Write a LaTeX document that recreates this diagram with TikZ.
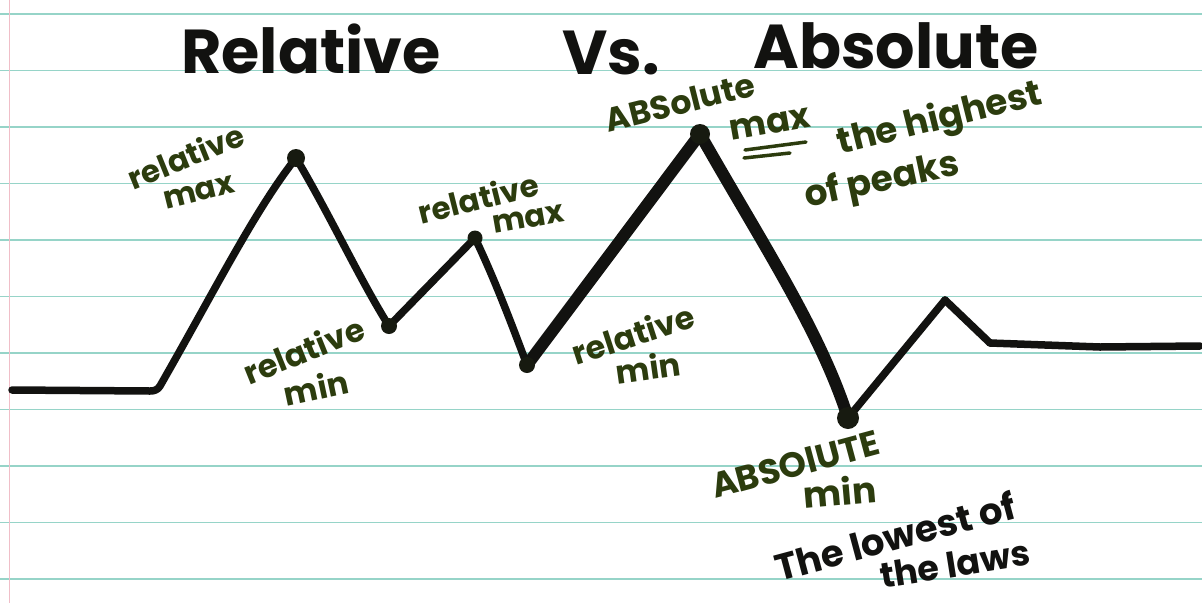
\documentclass[tikz,border=0pt]{standalone}
\usepackage{fontspec}
\setmainfont{Poppins}
\definecolor{rule}{RGB}{150,212,200}
\definecolor{margin}{RGB}{240,190,200}
\definecolor{ink}{RGB}{18,18,16}
\definecolor{penc}{RGB}{44,60,14}
\begin{document}
\begin{tikzpicture}[x=1pt,y=-1pt,
  curve/.style={draw=ink,line width=7.5pt,line cap=round,line join=round},
  boldcurve/.style={draw=ink,line width=12pt,line cap=round,line join=round},
  dot/.style={circle,fill=ink!80!penc,inner sep=0pt,minimum size=#1},
  title/.style={text=ink,font=\fontsize{62}{64}\selectfont\bfseries,inner sep=0pt},
  lab/.style={text=penc,font=\fontsize{#1}{#1}\selectfont\bfseries,inner sep=0pt},
  lab/.default=30]
\fill[white] (0,0) rectangle (1202,603);
\useasboundingbox (0,0) rectangle (1202,603);
% ruled paper
\foreach \k in {0,...,10}{
  \draw[rule,line width=1.6pt] (0,{14+56.5*\k}) -- (1202,{14+56.5*\k});
}
\draw[margin,line width=0.8pt] (9,0) -- (9,603);
% title
\node[title,anchor=base] (t1) at (311,73) {Relative};
\node[title,anchor=base] (t2) at (611,74) {Vs.};
\node[title,anchor=base] (t3) at (896,68) {Absolute};
% graph points
\coordinate (s0) at (12,390);
\coordinate (s1) at (150,391);
\coordinate (s2) at (160,386);
\coordinate (p1) at (296,158);
\coordinate (m1) at (389,326);
\coordinate (p2) at (475,238);
\coordinate (m2) at (527,365);
\coordinate (P) at (700,134);
\coordinate (M) at (848,418);
\coordinate (q) at (945,300);
\coordinate (r) at (990,343);
\coordinate (e) at (1200,346);
\draw[curve] (s0) -- (s1) to[out=0,in=-120] (s2) .. controls (215,290) and (255,210) .. (p1);
\draw[curve] (p1) .. controls (330,215) and (360,280) .. (m1);
\draw[curve] (m1) -- (p2);
\draw[curve] (p2) .. controls (495,280) and (512,325) .. (m2);
\draw[boldcurve] (m2) -- (P);
\draw[boldcurve] (P) .. controls (760,240) and (820,330) .. (M);
\draw[curve] (M) -- (q);
\draw[curve] (q) -- (r);
\draw[curve] (r) -- (1100,347) -- (e);
% dots
\node[dot=18pt] (dp1) at (p1) {};
\node[dot=16pt] (dm1) at (m1) {};
\node[dot=15pt] (dp2) at (p2) {};
\node[dot=16pt] (dm2) at (m2) {};
\node[dot=20pt] (dP) at (P) {};
\node[dot=22pt] (dM) at (M) {};
% labels
\node[lab=31,rotate=22] (l1a) at (186,156) {relative};
\node[lab=31,rotate=14] (l1b) at (199,192) {max};
\node[lab=31,rotate=14] (l2a) at (478,198) {relative};
\node[lab=31,rotate=10] (l2b) at (528,219) {max};
\node[lab=32,rotate=22] (l3a) at (304,350) {relative};
\node[lab=32,rotate=12] (l3b) at (316,387) {min};
\node[lab=32,rotate=18] (l4a) at (633,334) {relative};
\node[lab=32,rotate=8] (l4b) at (648,367) {min};
\node[lab=33,rotate=14] (l5a) at (680,102) {ABSolute};
\node[lab=35,rotate=10] (l5b) at (770,124) {max};
\draw[penc,line width=3.5pt,line cap=round] (745,150) -- (806,142);
\draw[penc,line width=3.5pt,line cap=round] (744,158) -- (790,153);
\node[lab=36,rotate=14] (l6a) at (940,120) {the highest};
\node[lab=36,rotate=12] (l6b) at (882,182) {of peaks};
\node[lab=35,rotate=15] (l7a) at (795,464) {ABSOlUTE};
\node[lab=36,rotate=5] (l7b) at (840,491) {min};
\node[lab=37,rotate=15,text=ink] (l8a) at (895,536) {The lowest of};
\node[lab=35,rotate=9,text=ink] (l8b) at (955,564) {the laws};
\end{tikzpicture}
\end{document}
